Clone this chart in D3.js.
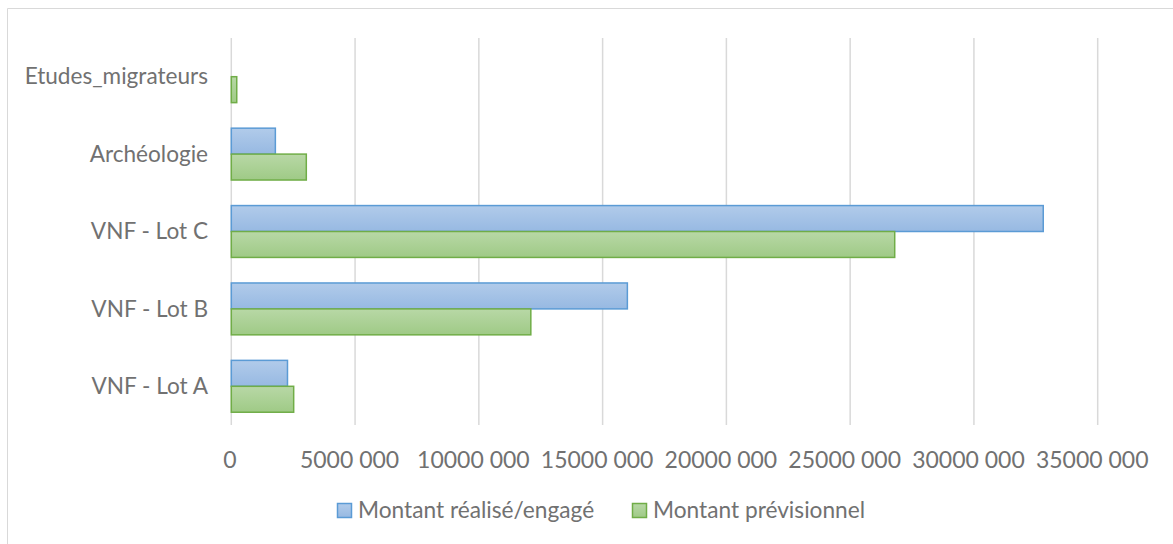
<!DOCTYPE html>
<html><head><meta charset="utf-8">
<script src="https://cdn.jsdelivr.net/npm/d3@7"></script>
<style>body{margin:0;background:#fff}svg{display:block}text{font-family:Lato,"Open Sans",sans-serif;fill:#717171}</style>
</head><body><svg id="c" width="1173" height="544"></svg>
<script>
const categories = ["Etudes_migrateurs","Archéologie","VNF - Lot C","VNF - Lot B","VNF - Lot A"];
const realise = [0, 1780000, 32800000, 16000000, 2270000];
const previsionnel = [220000, 3030000, 26800000, 12100000, 2520000];
const seriesNames = ["Montant réalisé/engagé","Montant prévisionnel"];
const xTicks = [0,5000000,10000000,15000000,20000000,25000000,30000000,35000000];

const svg = d3.select("#c");
const defs = svg.append("defs");
function grad(id, c1, c2){
  const g = defs.append("linearGradient").attr("id",id).attr("x1",0).attr("y1",0).attr("x2",0).attr("y2",1);
  g.append("stop").attr("offset","0%").attr("stop-color",c1);
  g.append("stop").attr("offset","100%").attr("stop-color",c2);
}
grad("gb","#b1cbea","#97b9e2");
grad("gg","#b8d8a6","#9fca86");
const fills = ["url(#gb)","url(#gg)"], strokes = ["#5b9bd5","#70ad47"];

// chart border (top and left visible)
svg.append("path").attr("d","M7.5,560 V8.5 H1180").attr("fill","none").attr("stroke","#d9d9d9").attr("stroke-width",1);

const m = {l:231.3, r:1097.7, t:38, b:425};
const x = d3.scaleLinear().domain([0,35000000]).range([m.l,m.r]);
const y = d3.scaleBand().domain(categories).range([m.t,m.b]).paddingInner(0.33).paddingOuter(0.165);
const sub = d3.scaleBand().domain([0,1]).range([0,y.bandwidth()]);

svg.append("g").selectAll("line").data(xTicks).join("line")
  .attr("x1",d=>x(d)).attr("x2",d=>x(d)).attr("y1",m.t).attr("y2",m.b)
  .attr("stroke","#d9d9d9").attr("stroke-width",1.5);

function lab(d){ if(d===0) return "0"; const s=String(d); return s.slice(0,s.length-3)+" "+s.slice(s.length-3); }

const xAxis = d3.axisBottom(x).tickValues(xTicks).tickFormat(lab).tickSize(0).tickPadding(0);
const gx = svg.append("g").attr("transform",`translate(0,${m.b})`).call(xAxis);
gx.select(".domain").remove();
gx.selectAll("text").attr("dy",0).attr("y",43).attr("dx",d=>d===0?-2:-6).style("font-size","23px").style("fill","#717171").attr("font-family",null);

const yAxis = d3.axisLeft(y).tickSize(0).tickPadding(0);
const gy = svg.append("g").attr("transform",`translate(208,0)`).call(yAxis);
gy.select(".domain").remove();
gy.selectAll("text").attr("x",0).attr("dy","0.34em").style("font-size","22.6px").style("fill","#717171").attr("font-family",null);

const vals = [realise, previsionnel];
vals.forEach((arr,si)=>{
  svg.append("g").selectAll("rect").data(categories.map((c,i)=>({c,v:arr[i]})).filter(d=>d.v>0)).join("rect")
    .attr("x",x(0)).attr("y",d=>y(d.c)+sub(si)).attr("width",d=>x(d.v)-x(0)).attr("height",sub.bandwidth())
    .attr("fill",fills[si]).attr("stroke",strokes[si]).attr("stroke-width",1.5);
});

// legend
const lg = svg.append("g");
const lx = [337.5, 632.5];
seriesNames.forEach((n,i)=>{
  lg.append("rect").attr("x",lx[i]).attr("y",503.5).attr("width",14).attr("height",14)
    .attr("fill",fills[i]).attr("stroke",strokes[i]).attr("stroke-width",1.5);
  lg.append("text").attr("x",lx[i]+20.5).attr("y",518).style("font-size","22.7px").text(n);
});
</script></body></html>
